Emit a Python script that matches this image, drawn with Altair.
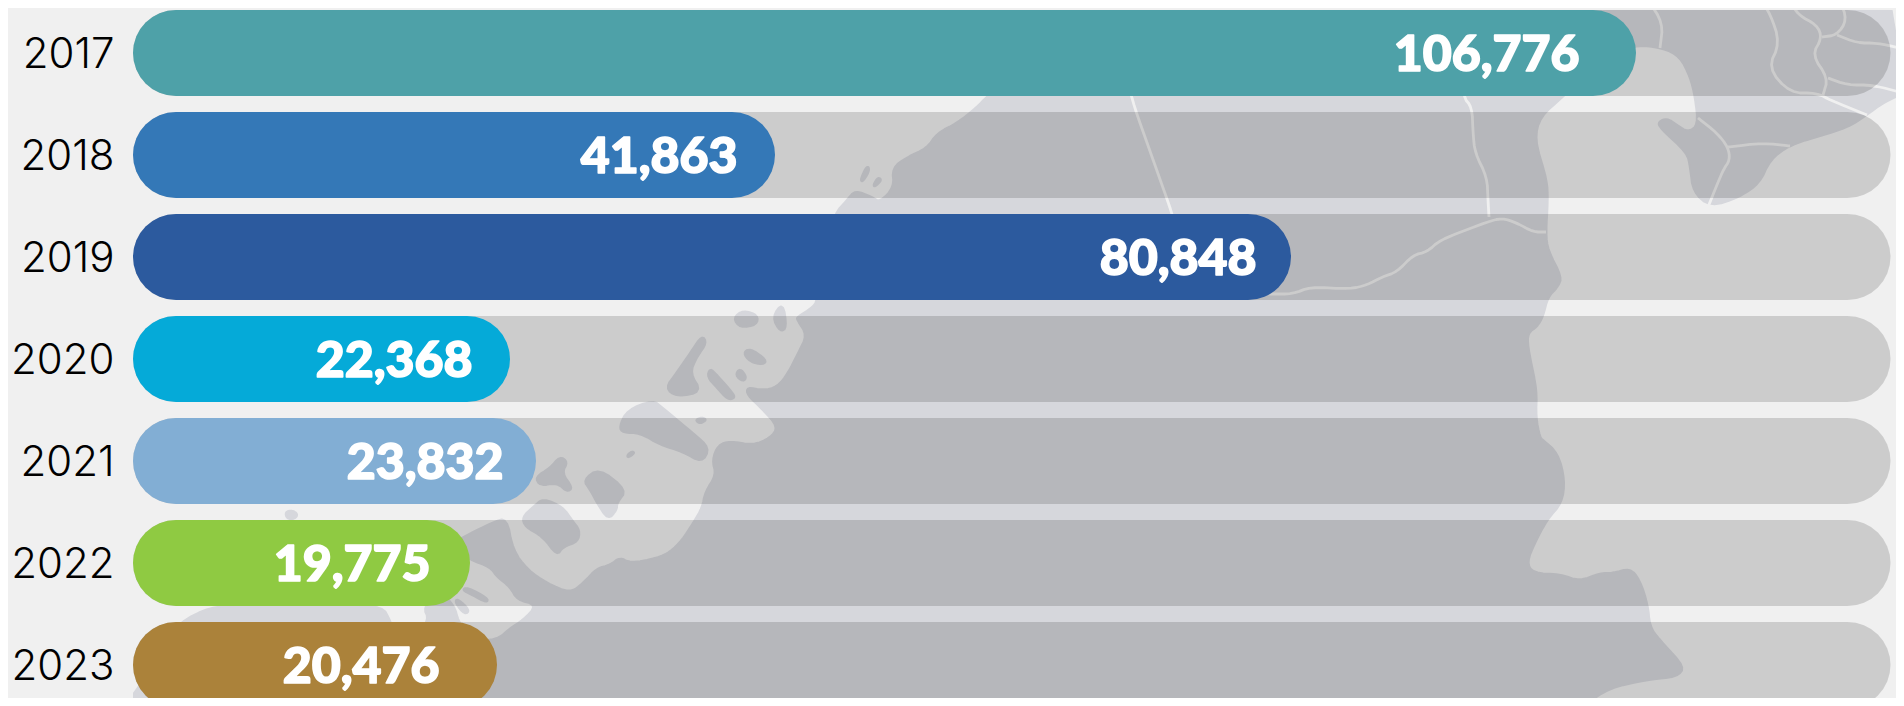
import altair as alt

years = ["2017", "2018", "2019", "2020", "2021", "2022", "2023"]
values = [106776, 41863, 80848, 22368, 23832, 19775, 20476]
colors = ["#4ea1a8", "#3478b7", "#2c5a9e", "#05aad8", "#82aed4", "#8fca42", "#ab823a"]
label_gaps = [56.5, 37.5, 34.5, 37.5, 32.5, 39.5, 57.5]
track_max = 125000

# The reference's bar lengths are not proportional to their labels,
# so the x scale is piecewise: each value maps to where its rounded end sits in the picture
# (the round cap of radius 43 adds the rest of the length).
scale_values = [0, 19775, 20476, 22368, 23832, 41863, 80848, 106776, 125000]
scale_stops = [43, 294, 321, 334, 360, 599, 1115, 1460, 1714.5]
cap_radius = 43

mainland = [(1101,0),(1890,0),(1892,13),(1900,60),(1904,93),(1883,103),(1867,115),(1847,128),(1790,145),(1770,160),(1760,183),(1740,197),(1710,207),(1693,192),(1690,167),(1687,153),(1660,128),(1658,122),(1667,118),(1677,125),(1688,132),(1698,125),(1695,97),(1690,77),(1680,57),(1663,48),(1633,45),(1600,60),(1563,97),(1540,117),(1535,140),(1547,180),(1548,200),(1546,233),(1548,250),(1562,277),(1558,287),(1548,297),(1543,317),(1537,327),(1528,333),(1528,347),(1537,390),(1536,417),(1540,437),(1543,440),(1558,453),(1565,480),(1562,503),(1547,520),(1535,543),(1527,562),(1533,573),(1560,574),(1580,581),(1600,573),(1613,573),(1630,568),(1640,580),(1648,605),(1650,627),(1660,640),(1685,667),(1677,677),(1647,680),(1610,688),(1583,706),(1548,706),(1537,702),(1523,706),(0,706),(0,672),(33,667),(57,662),(80,680),(110,682),(133,700),(150,660),(180,622),(210,607),(300,600),(383,607),(390,620),(395,635),(415,635),(429,620),(423,607),(440,590),(455,607),(458,620),(470,640),(497,640),(510,628),(523,620),(537,605),(517,600),(510,587),(497,577),(490,567),(470,560),(450,545),(463,537),(493,522),(507,518),(513,550),(528,570),(547,583),(570,593),(583,583),(597,568),(610,565),(620,557),(630,563),(657,558),(670,552),(682,540),(693,523),(702,508),(705,492),(716,475),(712,460),(718,445),(730,441),(753,445),(770,438),(778,427),(763,410),(747,395),(747,387),(763,390),(777,387),(788,373),(798,353),(807,335),(797,320),(797,317),(813,307),(817,300),(825,250),(835,213),(847,200),(855,190),(872,197),(880,202),(894,187),(892,168),(907,157),(927,148),(937,133),(957,123),(977,107),(987,96),(1050,50)]

islands = [
    [(702,335),(707,343),(697,357),(690,373),(702,392),(677,397),(665,388),(677,372),(690,353)],
    [(710,368),(717,375),(733,393),(735,398),(728,400),(717,388),(707,377)],
    [(743,353),(750,348),(767,360),(763,365),(750,362)],
    [(740,368),(747,377),(743,382),(735,375)],
    [(653,400),(663,408),(693,433),(710,448),(702,463),(683,452),(660,445),(640,433),(623,433),(619,427),(627,410)],
    [(702,417),(707,420),(700,424),(695,420)],
    [(632,451),(635,453),(628,458),(627,455)],
    [(560,456),(568,462),(562,473),(573,488),(567,492),(557,483),(540,486),(535,477),(550,468)],
    [(599,468),(627,490),(617,503),(617,510),(608,520),(597,503),(590,490),(583,480)],
    [(543,498),(563,507),(572,520),(580,530),(578,542),(563,547),(557,556),(543,537),(525,527),(522,517),(533,507)],
    [(733,318),(743,310),(758,315),(757,325),(740,328)],
    [(772,317),(783,302),(787,328),(780,332)],
    [(867,165),(870,170),(863,182),(860,180)],
    [(878,177),(882,180),(875,187),(873,185)],
    [(467,587),(488,598),(487,603),(472,595),(462,590)],
    [(457,598),(470,610),(465,615),(455,603)],
    [(33,428),(42,430),(53,438),(50,450),(40,452),(32,437)],
    [(32,487),(40,487),(53,493),(52,502),(38,503),(32,517),(23,520),(19,515),(22,498)],
    [(13,558),(20,562),(8,583),(3,585),(2,578)],
    [(23,605),(40,593),(53,593),(59,607),(57,615),(37,617),(25,612)],
    [(110,592),(123,600),(127,617),(118,623),(108,612),(105,600)],
    [(285,512),(292,510),(298,514),(295,519),(287,519)],
]

border_lines = [
    [(1105,0),(1135,109),(1172,213),(1190,285),(1270,294)],
    [(1270,294),(1293,294),(1310,287),(1350,289),(1367,285),(1382,277),(1397,272),(1413,255),(1427,252),(1440,240),(1487,222),(1502,218),(1517,223),(1533,232),(1546,232)],
    [(1467,0),(1463,97),(1472,107),(1473,133),(1475,153),(1487,177),(1488,200),(1489,217)],
    [(1648,0),(1663,23),(1660,48)],
    [(1760,0),(1770,13),(1780,43),(1768,68),(1790,93),(1817,93),(1830,100),(1867,115)],
    [(1790,0),(1798,15),(1817,25),(1822,38),(1812,55),(1828,78),(1823,95)],
    [(1840,0),(1847,20),(1837,35),(1822,37)],
    [(1837,35),(1857,43),(1877,43),(1900,48)],
    [(1828,78),(1847,85),(1873,85),(1903,93)],
    [(1698,118),(1717,133),(1728,147),(1730,160),(1723,170),(1708,207)],
    [(1728,147),(1763,143),(1790,146)],
]


def round_corners(points, closed, passes=2, reach=8.0):
    """Cut each traced corner so the outline reads as a soft hand-drawn curve."""
    pts = [tuple(p) for p in points]
    for _ in range(passes):
        out = [] if closed else [pts[0]]
        n = len(pts)
        for i in range(n if closed else n - 1):
            a, b = pts[i], pts[(i + 1) % n]
            length = max(((b[0] - a[0]) ** 2 + (b[1] - a[1]) ** 2) ** 0.5, 1e-6)
            t = min(0.25, reach / length)
            out.append((a[0] + (b[0] - a[0]) * t, a[1] + (b[1] - a[1]) * t))
            out.append((b[0] - (b[0] - a[0]) * t, b[1] - (b[1] - a[1]) * t))
        if not closed:
            out.append(pts[-1])
        pts = out
    return [list(p) for p in pts]


def ring(points):
    pts = round_corners(points, closed=True)
    return pts + [pts[0]]


land_features = [{"type": "Feature", "properties": {}, "geometry": {"type": "Polygon", "coordinates": [ring(p)]}}
                 for p in [mainland] + islands]
line_features = [{"type": "Feature", "properties": {}, "geometry": {"type": "LineString", "coordinates": round_corners(l, closed=False)}}
                 for l in border_lines]

projection = alt.Projection(type="identity", scale=1, translate=[-133, -10]).to_dict()

table = [{"year": y, "value": v, "start": 0, "track": track_max} for y, v in zip(years, values)]

x_scale = alt.Scale(domain=scale_values, range=scale_stops)
y_scale = alt.Scale(domain=years, range=[0, 698], paddingInner=16 / 102, paddingOuter=0)
y_enc = alt.Y(
    "year:N", scale=y_scale, sort=years, title=None,
    axis=alt.Axis(domain=False, ticks=False, labelFontSize=42, labelFont="Inter", labelFontWeight=300,
                  labelColor="#000000", labelPadding=19, labelBaseline="middle", labelOffset=2),
)
x_start = alt.X("start:Q", scale=x_scale, axis=None)

land = alt.Chart(alt.Data(values=land_features)).mark_geoshape(
    fill="#d6d7dc", stroke="#d6d7dc", strokeWidth=2, strokeJoin="round").project(**projection)
lines = alt.Chart(alt.Data(values=line_features)).mark_geoshape(
    filled=False, stroke="#f0f0f0", strokeWidth=2.8, strokeJoin="round").project(**projection)

base = alt.Chart(alt.Data(values=table))
tracks = base.mark_rule(color="#000000", opacity=0.15, strokeWidth=2 * cap_radius, strokeCap="round").encode(
    x=x_start, x2="track:Q", y=y_enc)
bars = base.mark_rule(strokeWidth=2 * cap_radius, strokeCap="round", opacity=1).encode(
    x=x_start, x2="value:Q", y=y_enc,
    color=alt.Color("year:N", scale=alt.Scale(domain=years, range=colors), legend=None))

texts = []
for row, gap in zip(table, label_gaps):
    texts.append(
        alt.Chart(alt.Data(values=[row])).mark_text(
            align="right", baseline="middle", dx=cap_radius - gap, dy=3, color="#ffffff",
            stroke="#ffffff", strokeWidth=1.6, strokeJoin="round",
            font="Lato", fontWeight=900, fontSize=50,
        ).encode(x=alt.X("value:Q", scale=x_scale, axis=None), y=y_enc, text=alt.Text("value:Q", format=","))
    )

chart = (
    alt.layer(land, lines, tracks, bars, *texts)
    .properties(width=1763, height=688, padding={"left": 125, "top": 2, "right": 0, "bottom": 0},
                autosize=alt.AutoSizeParams(type="none"), background="#f0f0f0")
    .configure_view(stroke=None)
)

chart.save("out.html", embed_options={"renderer": "svg", "actions": False})
